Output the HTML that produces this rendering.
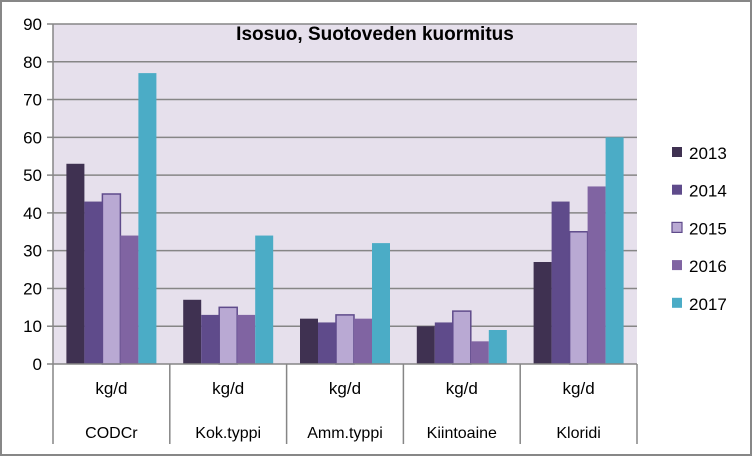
<!DOCTYPE html>
<html><head><meta charset="utf-8"><style>
html,body{margin:0;padding:0;background:#fff}
svg{display:block;font-family:"Liberation Sans",sans-serif}
</style></head><body>
<svg width="752" height="456">
<rect x="1" y="1" width="750" height="454" fill="#fff" stroke="#878787" stroke-width="2"/>
<rect x="53" y="24" width="584" height="340" fill="#e6e0ec"/>
<g id="grid"></g>
<g id="bars"></g>
<g id="axes"></g>
<text x="375" y="40" text-anchor="middle" font-weight="bold" font-size="19" fill="#000">Isosuo, Suotoveden kuormitus</text>
<g id="legend"></g>
</svg>
<script>
const categories=["CODCr","Kok.typpi","Amm.typppi".replace("ppp","pp"),"Kiintoaine","Kloridi"];
const units=["kg/d","kg/d","kg/d","kg/d","kg/d"];
const years=["2013","2014","2015","2016","2017"];
const s2013=[53,17,12,10,27];
const s2014=[43,13,11,11,43];
const s2015=[45,15,13,14,35];
const s2016=[34,13,12,6,47];
const s2017=[77,34,32,9,60];
const yTicks=[0,10,20,30,40,50,60,70,80,90];
const series=[s2013,s2014,s2015,s2016,s2017];
const colors=["#3f3151","#5f4b8b","#b9a9d3","#8064a2","#4bacc6"];
const strokes=["none","none","#5f4b8b","none","none"];
const NS="http://www.w3.org/2000/svg";
const L=53,R=637,T=24,B=364,yMax=90;
const y=v=>B-(v/yMax)*(B-T);
const gw=(R-L)/categories.length,bw=18;
const x=(g,i)=>L+g*gw+(gw-bw*series.length)/2+i*bw;
function mk(t,a,p){const e=document.createElementNS(NS,t);for(const k in a)e.setAttribute(k,a[k]);p.appendChild(e);return e;}
const grid=document.getElementById('grid'),bars=document.getElementById('bars'),axes=document.getElementById('axes'),leg=document.getElementById('legend');
yTicks.forEach(t=>{
  if(t>0){const g=mk('line',{x1:L,x2:R,y1:y(t),y2:y(t),stroke:'#868686','stroke-width':1.5},grid);
  
  }
  const tx=mk('text',{x:42,y:y(t)+6,'text-anchor':'end','font-size':17,fill:'#000'},axes);
  tx.textContent=t;
  
  
  const tk=mk('line',{x1:47,x2:L,y1:y(t),y2:y(t),stroke:'#868686','stroke-width':1.5},axes);
  
  
});
series.forEach((s,i)=>s.forEach((v,g)=>{
  const r=mk('rect',{x:x(g,i),y:y(v),width:bw,height:B-y(v),fill:colors[i]},bars);
  if(strokes[i]!=='none'){r.setAttribute('stroke',strokes[i]);r.setAttribute('stroke-width',1.5);}
  
  
}));
const ya=mk('line',{x1:L,x2:L,y1:T,y2:B,stroke:'#868686','stroke-width':1.5},axes);


const xa=mk('line',{x1:L,x2:R,y1:B,y2:B,stroke:'#868686','stroke-width':1.5},axes);


for(let g=0;g<=categories.length;g++){
  const sx=L+g*gw;
  const ln=mk('line',{x1:sx,x2:sx,y1:B,y2:444,stroke:'#868686','stroke-width':1.5},axes);
  
  
}
categories.forEach((c,g)=>{
  const cx=L+g*gw+gw/2;
  const u=mk('text',{x:cx,y:394,'text-anchor':'middle','font-size':17,fill:'#000'},axes);
  u.textContent=units[g];
  
  
  const t=mk('text',{x:cx,y:438,'text-anchor':'middle','font-size':16,fill:'#000'},axes);
  t.textContent=c;
  
  
});
years.forEach((yr,i)=>{
  const ly=153+i*37.7;
  const r=mk('rect',{x:672,y:ly-6,width:10,height:10,fill:colors[i]},leg);
  if(strokes[i]!=='none'){r.setAttribute('stroke',strokes[i]);r.setAttribute('stroke-width',1.2);}
  
  
  const t=mk('text',{x:689,y:ly+6,'font-size':17,fill:'#000'},leg);
  t.textContent=yr;
  
  
});
</script>
</body></html>
